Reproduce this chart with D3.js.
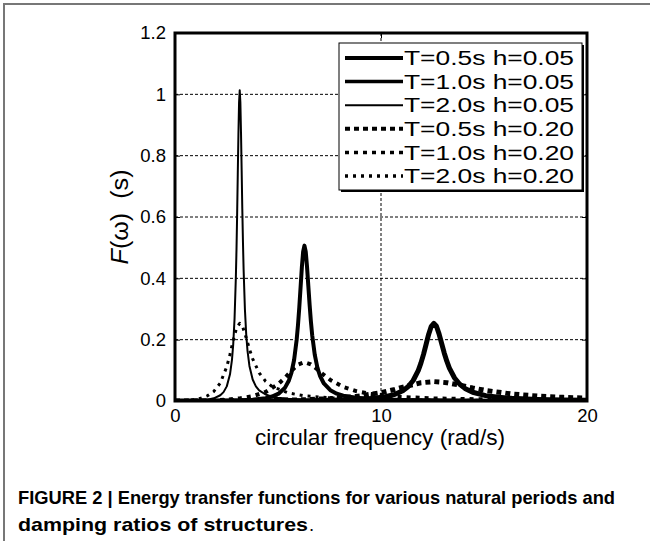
<!DOCTYPE html>
<html>
<head>
<meta charset="utf-8">
<script src="https://cdn.jsdelivr.net/npm/d3@7"></script>
<style>
  body { margin: 0; background: #fff; }
  svg { display: block; font-family: "Liberation Sans", Arial, sans-serif; }
</style>
</head>
<body>
<div id="chart"></div>
<script>
// circular frequency (rad/s) and F(w) (s)
const w_05_005 = [0, 2.513, 5.027, 6.283, 7.540, 8.796, 9.425, 10.053, 10.681, 11.058, 11.310, 11.561, 11.812, 11.938, 12.064, 12.189, 12.315, 12.441, 12.566, 12.692, 12.818, 12.943, 13.069, 13.195, 13.320, 13.572, 13.823, 14.074, 14.451, 15.080, 15.708, 16.336, 17.593, 18.850, 20.0];
const F_05_005 = [0, 0.00011, 0.00057, 0.00112, 0.00221, 0.00468, 0.00723, 0.01192, 0.02173, 0.03346, 0.04643, 0.06687, 0.1000, 0.1234, 0.1520, 0.1847, 0.2177, 0.2435, 0.2533, 0.2437, 0.2190, 0.1877, 0.1568, 0.1297, 0.1074, 0.0751, 0.0545, 0.0411, 0.0286, 0.0175, 0.0119, 0.00868, 0.00527, 0.00360, 0.00271];

const w_10_005 = [0, 1.257, 2.513, 3.142, 3.770, 4.398, 4.712, 5.027, 5.341, 5.529, 5.655, 5.781, 5.906, 5.969, 6.032, 6.095, 6.158, 6.220, 6.283, 6.346, 6.409, 6.472, 6.535, 6.597, 6.660, 6.786, 6.912, 7.037, 7.226, 7.540, 7.854, 8.168, 8.796, 9.425, 10.996, 12.566, 15.708, 20.0];
const F_10_005 = [0, 0.00022, 0.00115, 0.00224, 0.00441, 0.00937, 0.01446, 0.02384, 0.04346, 0.06692, 0.09286, 0.1337, 0.2000, 0.2467, 0.3039, 0.3695, 0.4355, 0.4869, 0.5066, 0.4873, 0.4379, 0.3754, 0.3135, 0.2594, 0.2147, 0.1502, 0.1091, 0.0823, 0.0571, 0.0351, 0.0238, 0.0174, 0.01055, 0.00719, 0.00362, 0.00224, 0.00115, 0.00062];

const w_20_005 = [0, 0.628, 1.257, 1.571, 1.885, 2.199, 2.356, 2.513, 2.670, 2.765, 2.827, 2.890, 2.953, 2.985, 3.016, 3.047, 3.079, 3.110, 3.142, 3.173, 3.204, 3.236, 3.267, 3.299, 3.330, 3.393, 3.456, 3.519, 3.613, 3.770, 3.927, 4.084, 4.398, 4.712, 4.995, 5.498, 6.283, 7.854, 9.425, 12.566, 15.708, 20.0];
const F_20_005 = [0, 0.00044, 0.00229, 0.00448, 0.00883, 0.01873, 0.02893, 0.04768, 0.08691, 0.1338, 0.1857, 0.2675, 0.4000, 0.4934, 0.6078, 0.7389, 0.8710, 0.9739, 1.0132, 0.9746, 0.8758, 0.7508, 0.6271, 0.5188, 0.4294, 0.3003, 0.2181, 0.1645, 0.1143, 0.07014, 0.04768, 0.03473, 0.02110, 0.01438, 0.01085, 0.00724, 0.00448, 0.00229, 0.00142, 0.00072, 0.00044, 0.00026];

const w_05_020 = [0, 2.513, 5.027, 6.283, 7.540, 8.796, 10.053, 10.681, 11.310, 11.938, 12.566, 13.195, 13.823, 14.451, 15.080, 16.336, 17.593, 18.850, 20.0];
const F_05_020 = [0, 0.00044, 0.00222, 0.00420, 0.00781, 0.01467, 0.0280, 0.0380, 0.0495, 0.0594, 0.0633, 0.0598, 0.0516, 0.0425, 0.0344, 0.0229, 0.0161, 0.0119, 0.00935];

const w_10_020 = [0, 1.257, 2.513, 3.142, 3.770, 4.398, 5.027, 5.341, 5.655, 5.969, 6.283, 6.597, 6.912, 7.226, 7.540, 8.168, 8.796, 9.425, 10.996, 12.566, 15.708, 20.0];
const F_10_020 = [0, 0.00087, 0.00443, 0.00841, 0.01561, 0.02933, 0.0559, 0.0760, 0.0991, 0.1188, 0.1267, 0.1195, 0.1031, 0.0849, 0.0688, 0.0459, 0.0322, 0.0237, 0.0131, 0.00841, 0.00443, 0.00242];

const w_20_020 = [0, 0.628, 1.257, 1.571, 1.885, 2.199, 2.513, 2.670, 2.827, 2.985, 3.142, 3.299, 3.456, 3.613, 3.770, 4.084, 4.398, 4.712, 5.498, 6.283, 7.854, 9.425, 12.566, 15.708, 20.0];
const F_20_020 = [0, 0.00175, 0.00887, 0.01682, 0.03123, 0.05867, 0.1118, 0.1520, 0.1981, 0.2377, 0.2533, 0.2391, 0.2063, 0.1698, 0.1376, 0.0918, 0.0643, 0.0474, 0.0262, 0.0168, 0.00887, 0.00557, 0.00285, 0.00175, 0.00105];

const seriesNames = ["T=0.5s h=0.05", "T=1.0s h=0.05", "T=2.0s h=0.05", "T=0.5s h=0.20", "T=1.0s h=0.20", "T=2.0s h=0.20"];
const xTicks = [0, 10, 20];
const yTicks = [0, 0.2, 0.4, 0.6, 0.8, 1, 1.2];
const yTickLabels = ["0", "0.2", "0.4", "0.6", "0.8", "1", "1.2"];

const width = 650, height = 541;
const pLeft = 175, pRight = 587, pTop = 33, pBottom = 401;

const series = [
  { name: seriesNames[0], w: w_05_005, F: F_05_005, sw: 5, dash: null },
  { name: seriesNames[1], w: w_10_005, F: F_10_005, sw: 4, dash: null },
  { name: seriesNames[2], w: w_20_005, F: F_20_005, sw: 2, dash: null },
  { name: seriesNames[3], w: w_05_020, F: F_05_020, sw: 5, dash: "5,4" },
  { name: seriesNames[4], w: w_10_020, F: F_10_020, sw: 4, dash: "4,5" },
  { name: seriesNames[5], w: w_20_020, F: F_20_020, sw: 3, dash: "3,5" }
];

const svg = d3.select("#chart").append("svg")
  .attr("width", width)
  .attr("height", height);

// outer figure border
svg.append("rect")
  .attr("x", 4).attr("y", 4)
  .attr("width", 700).attr("height", 600)
  .attr("fill", "none")
  .attr("stroke", "#777")
  .attr("stroke-width", 2);

const x = d3.scaleLinear().domain([0, 20]).range([pLeft, pRight]);
const y = d3.scaleLinear().domain([0, 1.2]).range([pBottom, pTop]);

svg.append("defs").append("clipPath").attr("id", "plotclip")
  .append("rect")
  .attr("x", pLeft).attr("y", pTop)
  .attr("width", pRight - pLeft).attr("height", pBottom - pTop);

// grid
const grid = svg.append("g");
grid.selectAll(".gy")
  .data(yTicks.filter(d => d > 0 && d < 1.2))
  .enter().append("line")
  .attr("x1", pLeft).attr("x2", pRight)
  .attr("y1", d => y(d)).attr("y2", d => y(d))
  .attr("stroke", "#000").attr("stroke-width", 1)
  .attr("stroke-dasharray", "3,2");
grid.selectAll(".gx")
  .data(xTicks.filter(d => d > 0 && d < 20))
  .enter().append("line")
  .attr("x1", d => x(d)).attr("x2", d => x(d))
  .attr("y1", pTop).attr("y2", pBottom)
  .attr("stroke", "#000").attr("stroke-width", 1)
  .attr("stroke-dasharray", "3,2");

// curves
const line = d3.line()
  .x(d => x(d[0]))
  .y(d => y(d[1]));

const curves = svg.append("g").attr("clip-path", "url(#plotclip)");
series.forEach(s => {
  const pts = s.w.map((v, i) => [v, s.F[i]]);
  curves.append("path")
    .datum(pts)
    .attr("d", line)
    .attr("fill", "none")
    .attr("stroke", "#000")
    .attr("stroke-width", s.sw)
    .attr("stroke-linejoin", "round")
    .attr("stroke-dasharray", s.dash);
});

// axes (ticks inward)
const xAxis = svg.append("g")
  .attr("transform", `translate(0,${pBottom})`)
  .call(d3.axisBottom(x).tickValues(xTicks).tickSize(-5).tickPadding(8).tickFormat(d3.format("d")));
const yAxis = svg.append("g")
  .attr("transform", `translate(${pLeft},0)`)
  .call(d3.axisLeft(y).tickValues(yTicks).tickSize(-5).tickPadding(9).tickFormat((d, i) => yTickLabels[i]));
svg.append("g")
  .attr("transform", `translate(0,${pTop})`)
  .call(d3.axisTop(x).tickValues(xTicks).tickSize(-5).tickFormat(""));
svg.append("g")
  .attr("transform", `translate(${pRight},0)`)
  .call(d3.axisRight(y).tickValues(yTicks).tickSize(-5).tickFormat(""));

svg.selectAll(".domain").remove();
svg.selectAll(".tick line").attr("stroke", "#000").attr("stroke-width", 1);
[xAxis, yAxis].forEach(a => a.selectAll("text")
  .attr("font-family", "Liberation Sans, Arial, sans-serif")
  .attr("font-size", 18.5)
  .attr("fill", "#000"));

// frame
svg.append("rect")
  .attr("x", pLeft).attr("y", pTop)
  .attr("width", pRight - pLeft).attr("height", pBottom - pTop)
  .attr("fill", "none")
  .attr("stroke", "#000")
  .attr("stroke-width", 3);

// legend
const lgX = 339, lgY = 43, lgW = 243, lgH = 147;
svg.append("rect")
  .attr("x", lgX + 2).attr("y", lgY + 2)
  .attr("width", lgW).attr("height", lgH)
  .attr("fill", "#000");
svg.append("rect")
  .attr("x", lgX).attr("y", lgY)
  .attr("width", lgW).attr("height", lgH)
  .attr("fill", "#fff")
  .attr("stroke", "#000")
  .attr("stroke-width", 1);

const legend = svg.selectAll(".legend")
  .data(series)
  .enter().append("g")
  .attr("class", "legend")
  .attr("transform", (d, i) => `translate(${lgX},${lgY + 15 + i * 23.6})`);

legend.append("line")
  .attr("x1", 6).attr("x2", 64)
  .attr("y1", 0).attr("y2", 0)
  .attr("stroke", "#000")
  .attr("stroke-width", d => d.sw === 2 ? 2 : (d.sw === 5 ? 4 : 3.5))
  .attr("stroke-dasharray", d => d.dash);

legend.append("text")
  .attr("x", 65)
  .attr("y", 0)
  .attr("dy", "0.36em")
  .attr("font-size", 20)
  .attr("textLength", 170)
  .attr("lengthAdjust", "spacingAndGlyphs")
  .text(d => d.name);

// axis labels
svg.append("text")
  .attr("x", (pLeft + pRight) / 2 - 1)
  .attr("y", 445)
  .attr("text-anchor", "middle")
  .attr("font-size", 22)
  .attr("textLength", 250)
  .attr("lengthAdjust", "spacingAndGlyphs")
  .text("circular frequency (rad/s)");

const yl = svg.append("text")
  .attr("transform", `translate(128,${(pTop + pBottom) / 2}) rotate(-90)`)
  .attr("text-anchor", "middle")
  .attr("font-size", 23)
  .attr("textLength", 95)
  .attr("lengthAdjust", "spacingAndGlyphs");
yl.append("tspan").attr("font-style", "italic").text("F");
yl.append("tspan").text("(ω)\u00a0\u00a0(s)");

// caption
svg.append("text")
  .attr("x", 18).attr("y", 504)
  .attr("font-size", 18.5)
  .attr("font-weight", "bold")
  .attr("textLength", 597)
  .attr("lengthAdjust", "spacingAndGlyphs")
  .text("FIGURE 2 | Energy transfer functions for various natural periods and");

svg.append("text")
  .attr("x", 18).attr("y", 531)
  .attr("font-size", 18.5)
  .attr("font-weight", "bold")
  .attr("textLength", 290)
  .attr("lengthAdjust", "spacingAndGlyphs")
  .text("damping ratios of structures");
svg.append("text")
  .attr("x", 309).attr("y", 531)
  .attr("font-size", 18.5)
  .text(".");
</script>
</body>
</html>
